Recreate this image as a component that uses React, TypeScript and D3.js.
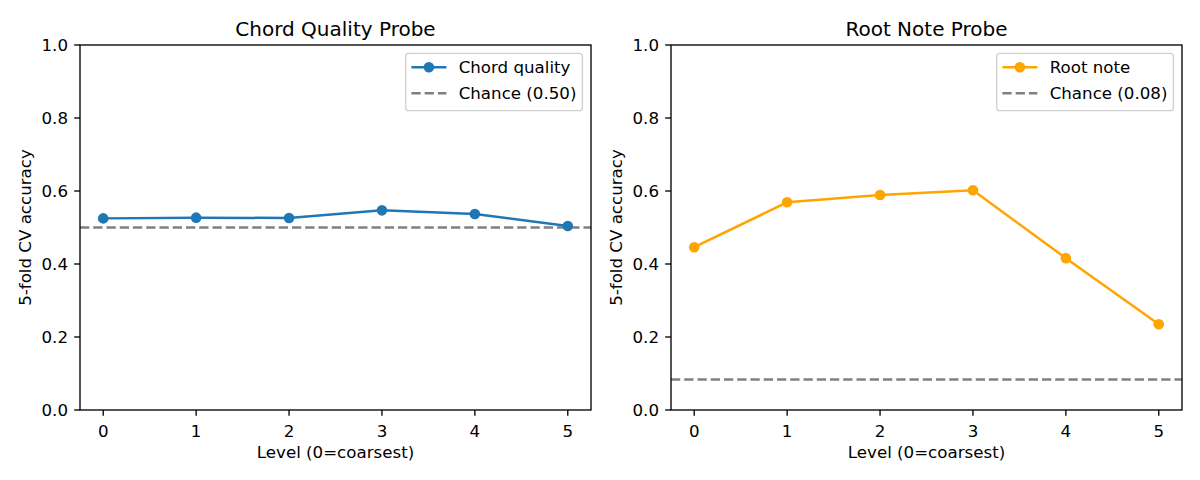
import React from "react";
import * as d3 from "d3";

const levels = [0, 1, 2, 3, 4, 5];
const chordQuality = [0.525, 0.527, 0.526, 0.547, 0.537, 0.504];
const rootNote = [0.446, 0.569, 0.589, 0.602, 0.416, 0.235];
const chanceChord = 0.5;
const chanceRoot = 1 / 12;
const yTicks = [0, 0.2, 0.4, 0.6, 0.8, 1.0];

const W = 1200;
const H = 480;
const FONT = "'DejaVu Sans', sans-serif";
const FS = 16.67;
const LW = 2.5;
const DASH = "9.25,4";

type PanelProps = {
  left: number;
  title: string;
  values: number[];
  chance: number;
  color: string;
  seriesLabel: string;
  chanceLabel: string;
};

function Panel({ left, title, values, chance, color, seriesLabel, chanceLabel }: PanelProps) {
  const pw = 511;
  const top = 45;
  const bottom = 410;
  const x = d3.scaleLinear().domain([-0.25, 5.25]).range([left, left + pw]);
  const y = d3.scaleLinear().domain([0, 1]).range([bottom, top]);
  const line = d3
    .line<number>()
    .x((_, i) => x(levels[i]))
    .y((d) => y(d));
  const lx = left + pw - 185.3;
  const ly = 53.3;
  return (
    <g fontFamily={FONT}>
      <text x={left + pw / 2} y={36} textAnchor="middle" fontSize={20}>
        {title}
      </text>
      <line
        x1={left}
        x2={left + pw}
        y1={y(chance)}
        y2={y(chance)}
        stroke="#808080"
        strokeWidth={LW}
        strokeDasharray={DASH}
      />
      <path d={line(values) || ""} fill="none" stroke={color} strokeWidth={LW} />
      {values.map((v, i) => (
        <circle key={i} cx={x(levels[i])} cy={y(v)} r={5.3} fill={color} />
      ))}
      <rect x={left} y={top} width={pw} height={bottom - top} fill="none" stroke="#000" strokeWidth={1.33} />
      {levels.map((l) => (
        <g key={l}>
          <line x1={x(l)} x2={x(l)} y1={bottom} y2={bottom + 5.83} stroke="#000" strokeWidth={1.33} />
          <text x={x(l)} y={436.5} textAnchor="middle" fontSize={FS}>
            {l}
          </text>
        </g>
      ))}
      {yTicks.map((t) => (
        <g key={t}>
          <line x1={left - 5.83} x2={left} y1={y(t)} y2={y(t)} stroke="#000" strokeWidth={1.33} />
          <text x={left - 12} y={y(t) + 6.1} textAnchor="end" fontSize={FS}>
            {t.toFixed(1)}
          </text>
        </g>
      ))}
      <text x={left + pw / 2} y={458} textAnchor="middle" fontSize={FS}>
        Level (0=coarsest)
      </text>
      <text
        transform={`translate(${left - 49},${(top + bottom) / 2}) rotate(-90)`}
        textAnchor="middle"
        fontSize={FS}
      >
        5-fold CV accuracy
      </text>
      <rect x={lx} y={ly} width={176.7} height={57.4} rx={3} fill="#fff" fillOpacity={0.8} stroke="#d0d0d0" strokeWidth={1.33} />
      <line x1={lx + 5.7} x2={lx + 40.7} y1={ly + 14} y2={ly + 14} stroke={color} strokeWidth={LW} />
      <circle cx={lx + 23.2} cy={ly + 14} r={5.3} fill={color} />
      <text x={lx + 53} y={ly + 20} fontSize={FS}>
        {seriesLabel}
      </text>
      <line
        x1={lx + 5.7}
        x2={lx + 40.7}
        y1={ly + 40}
        y2={ly + 40}
        stroke="#808080"
        strokeWidth={LW}
        strokeDasharray={DASH}
      />
      <text x={lx + 53} y={ly + 46} fontSize={FS}>
        {chanceLabel}
      </text>
    </g>
  );
}

export default function App() {
  return (
    <svg width={W} height={H} style={{ display: "block", position: "absolute", left: 0, top: 0 }}>
      <rect width={W} height={H} fill="#fff" />
      <Panel
        left={80}
        title="Chord Quality Probe"
        values={chordQuality}
        chance={chanceChord}
        color="#1f77b4"
        seriesLabel="Chord quality"
        chanceLabel={`Chance (${chanceChord.toFixed(2)})`}
      />
      <Panel
        left={671}
        title="Root Note Probe"
        values={rootNote}
        chance={chanceRoot}
        color="#ffa500"
        seriesLabel="Root note"
        chanceLabel={`Chance (${chanceRoot.toFixed(2)})`}
      />
    </svg>
  );
}
